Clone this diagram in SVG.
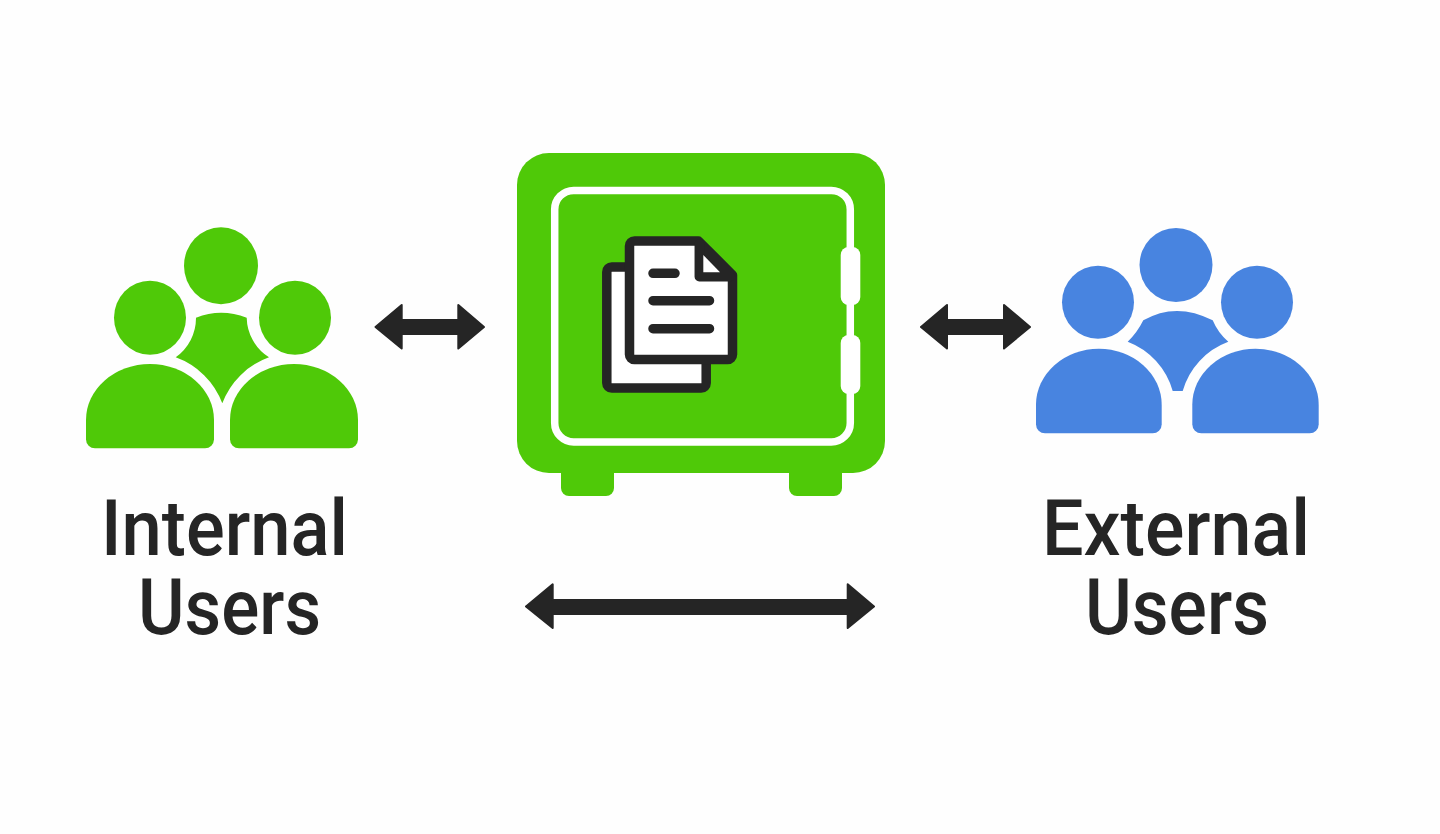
<svg xmlns="http://www.w3.org/2000/svg" width="1440" height="834" viewBox="0 0 1440 834">
<style>
.g{fill:#4fc908}
.b{fill:#4884e0}
.d{fill:#252525}
.t{font-family:Roboto,"Liberation Sans",sans-serif;font-weight:550;font-size:78px;fill:#252525}
.ln{fill:none;stroke:#252525;stroke-width:9.5;stroke-linecap:round;stroke-linejoin:round}
.dc{fill:#fff;stroke:#252525;stroke-width:9.5;stroke-linejoin:round}
</style>
<rect width="1440" height="834" fill="#fefefe"/>
<g id="internal-users">
<ellipse class="g" cx="221" cy="265.7" rx="37" ry="38.5"/>
<ellipse class="g" cx="150" cy="317.7" rx="36" ry="37"/>
<ellipse class="g" cx="295" cy="317.7" rx="36" ry="37"/>
<path class="g" d="M196 317.7Q221 307.7 246.7 317.7A48 48 0 0 0 269 357.3A78 78 0 0 0 222.3 403.3A78 78 0 0 0 175.7 357.3A48 48 0 0 0 196 317.7Z"/>
<path class="g" d="M95 448.3a9 9 0 0 1-9-9V420A64 56 0 0 1 214 420V439.3a9 9 0 0 1-9 9Z"/>
<path class="g" d="M239 448.3a9 9 0 0 1-9-9V420A64 56 0 0 1 358 420V439.3a9 9 0 0 1-9 9Z"/>
<text class="t" x="101" y="554.7" textLength="247" lengthAdjust="spacingAndGlyphs">Internal</text>
<text class="t" x="138" y="633.7" textLength="183" lengthAdjust="spacingAndGlyphs">Users</text>
</g>
<g id="vault">
<rect class="g" x="561" y="460" width="53" height="36" rx="8"/>
<rect class="g" x="789" y="460" width="53" height="36" rx="8"/>
<rect class="g" x="517" y="153" width="368" height="320" rx="32"/>
<rect x="554.7" y="190.4" width="295.6" height="251.6" rx="19" fill="none" stroke="#fff" stroke-width="7.5"/>
<rect x="840.7" y="247" width="19.6" height="58" rx="8" fill="#fff"/>
<rect x="840.7" y="335" width="19.6" height="59" rx="8" fill="#fff"/>
<rect class="dc" x="606.8" y="267" width="99.4" height="121" rx="5"/>
<path class="dc" d="M634.5 241H698.5L732.5 275V354.5a5 5 0 0 1-5 5H634.5a5 5 0 0 1-5-5V246a5 5 0 0 1 5-5Z"/>
<path class="d" d="M698 241L733 276.5H698Z"/>
<path class="ln" d="M699.3 244V276.7H730" stroke-width="8.5"/>
<path d="M703.3 255V272.3H720Z" fill="#fff"/>
<path class="ln" d="M653 273.3H675M653 300.7H709.5M653 328.7H709.5"/>
</g>
<g id="external-users">
<ellipse class="b" cx="1176" cy="265" rx="36.5" ry="37"/>
<ellipse class="b" cx="1098" cy="302.3" rx="36" ry="36.5"/>
<ellipse class="b" cx="1257" cy="302.3" rx="36" ry="36.5"/>
<path class="b" d="M1143.3 320.3Q1176 301.5 1212.7 320.3Q1218 333 1228.3 341.7A74 74 0 0 0 1182.7 391H1172.7A74 74 0 0 0 1127.7 341.7Q1137 333 1143.3 320.3Z"/>
<path class="b" d="M1045 433.3a9 9 0 0 1-9-9V404.7A62.85 56 0 0 1 1161.7 404.7V424.3a9 9 0 0 1-9 9Z"/>
<path class="b" d="M1201.3 433.3a9 9 0 0 1-9-9V404.7A63.2 56 0 0 1 1318.7 404.7V424.3a9 9 0 0 1-9 9Z"/>
<text class="t" x="1042" y="554.7" textLength="268" lengthAdjust="spacingAndGlyphs">External</text>
<text class="t" x="1085" y="633.7" textLength="184" lengthAdjust="spacingAndGlyphs">Users</text>
</g>
<g id="connectors">
<path class="d" stroke="#252525" stroke-width="2" stroke-linejoin="round" d="M375.5 327L401.7 305V320H458.3V305L484 327L458.3 348.5V334H401.7V348.5Z"/>
<path class="d" stroke="#252525" stroke-width="2" stroke-linejoin="round" d="M921 327L947 305V320H1004V305L1030 327L1004 348.5V334H947V348.5Z"/>
<path class="d" stroke="#252525" stroke-width="2" stroke-linejoin="round" d="M526 606.5L552.7 584.3V600H847.7V584.3L874 606.5L847.7 628V614H552.7V628Z"/>
</g>
</svg>
